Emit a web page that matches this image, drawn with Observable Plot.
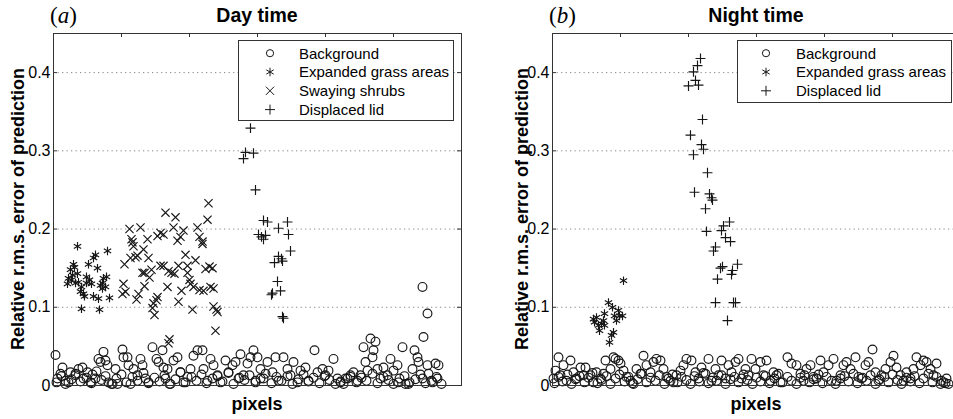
<!DOCTYPE html>
<html>
<head>
<meta charset="utf-8">
<script src="https://cdn.jsdelivr.net/npm/d3@7"></script>
<script src="https://cdn.jsdelivr.net/npm/@observablehq/plot@0.6"></script>
<style>
html,body{margin:0;padding:0;width:953px;height:419px;overflow:hidden;background:#fff;}
#root{position:relative;width:953px;height:419px;overflow:hidden;}
#root svg{position:absolute;top:0;}
</style>
</head>
<body>
<div id="root"></div>
<script>
// ---------- axes / labels ----------
const yTicks = [0, 0.1, 0.2, 0.3, 0.4];
const yTickLabels = ["0", "0.1", "0.2", "0.3", "0.4"];
const gridY = [0.1, 0.2, 0.3, 0.4];
const xTicks = [68, 136, 204, 272, 340];
const xLabel = "pixels";
const yLabel = "Relative r.m.s. error of prediction";
const titleA = "Day time", tagA = "a";
const titleB = "Night time", tagB = "b";
const legendA = ["Background", "Expanded grass areas", "Swaying shrubs", "Displaced lid"];
const legendB = ["Background", "Expanded grass areas", "Displaced lid"];

// ---------- panel (a) Day time : [pixel index, error] ----------
const dayBackground = [[2,0.039],[4,0.009],[9,0.023],[7,0.015],[12,0.006],[17,0.017],[15,0.004],[22,0.013],[25,0.021],[29,0.023],[30,0.009],[34,0.017],[37,0.004],[39,0.014],[42,0.009],[45,0.034],[47,0.030],[50,0.043],[52,0.032],[54,0.026],[55,0.004],[59,0.002],[62,0.021],[64,0.002],[69,0.046],[70,0.036],[74,0.036],[75,0.026],[77,0.002],[80,0.021],[84,0.013],[87,0.034],[89,0.026],[92,0.009],[95,0.004],[99,0.049],[103,0.034],[105,0.030],[109,0.045],[110,0.023],[112,0.009],[114,0.021],[117,0.002],[120,0.032],[124,0.036],[127,0.017],[130,0.004],[134,0.011],[137,0.021],[140,0.038],[144,0.045],[149,0.045],[150,0.021],[154,0.006],[157,0.034],[160,0.026],[164,0.013],[167,0.004],[172,0.032],[175,0.017],[179,0.026],[182,0.030],[185,0.009],[187,0.040],[190,0.013],[194,0.028],[197,0.036],[200,0.045],[202,0.006],[204,0.036],[207,0.021],[210,0.009],[214,0.030],[219,0.017],[222,0.036],[225,0.006],[230,0.036],[234,0.021],[237,0.013],[240,0.030],[244,0.004],[247,0.019],[252,0.023],[255,0.006],[261,0.045],[264,0.017],[269,0.021],[272,0.013],[275,0.019],[280,0.034],[284,0.009],[287,0.004],[290,0.002],[294,0.009],[297,0.011],[300,0.017],[304,0.006],[307,0.013],[310,0.049],[312,0.030],[314,0.019],[317,0.060],[319,0.036],[320,0.045],[322,0.056],[324,0.021],[327,0.009],[330,0.023],[334,0.013],[337,0.034],[340,0.019],[344,0.026],[345,0.004],[349,0.049],[352,0.002],[355,0.002],[359,0.021],[361,0.045],[364,0.036],[365,0.030],[369,0.009],[370,0.062],[369,0.126],[374,0.092],[374,0.026],[375,0.015],[379,0.004],[382,0.028],[385,0.026],[384,0.009]];
const dayBackgroundLow = [[3,0.004],[8,0.012],[12,0.002],[18,0.008],[22,0.015],[27,0.005],[33,0.010],[38,0.003],[43,0.018],[48,0.007],[52,0.012],[58,0.002],[63,0.009],[68,0.014],[73,0.004],[79,0.011],[84,0.006],[90,0.016],[95,0.003],[101,0.010],[106,0.005],[111,0.013],[116,0.002],[122,0.008],[127,0.017],[132,0.004],[138,0.011],[143,0.006],[148,0.014],[153,0.003],[159,0.009],[164,0.012],[169,0.005],[175,0.016],[180,0.002],[186,0.010],[191,0.007],[196,0.013],[202,0.004],[207,0.009],[212,0.015],[218,0.003],[223,0.011],[228,0.006],[234,0.012],[239,0.002],[245,0.008],[250,0.014],[255,0.005],[260,0.010],[266,0.003],[271,0.012],[276,0.007],[282,0.002],[287,0.005],[292,0.009],[297,0.013],[303,0.004],[308,0.010],[313,0.006],[319,0.015],[324,0.003],[330,0.011],[335,0.007],[340,0.002],[346,0.009],[351,0.012],[356,0.004],[362,0.008],[367,0.014],[372,0.003],[378,0.006],[383,0.011],[388,0.002]];
const dayGrass = [[24,0.178],[20,0.155],[17,0.148],[21,0.151],[15,0.137],[14,0.130],[18,0.135],[22,0.131],[24,0.143],[28,0.126],[30,0.117],[31,0.114],[28,0.098],[33,0.139],[36,0.135],[38,0.130],[35,0.155],[40,0.163],[42,0.167],[44,0.150],[40,0.114],[45,0.111],[46,0.097],[49,0.131],[50,0.137],[52,0.126],[53,0.139],[54,0.172],[56,0.112],[49,0.124],[25,0.132],[27,0.120],[19,0.141],[47,0.128],[33,0.131]];
const dayShrubs = [[70,0.130],[69,0.117],[72,0.120],[71,0.155],[76,0.200],[78,0.187],[79,0.183],[80,0.178],[77,0.163],[82,0.164],[84,0.166],[87,0.202],[90,0.174],[89,0.144],[91,0.144],[94,0.187],[95,0.163],[96,0.138],[98,0.148],[91,0.127],[85,0.117],[83,0.110],[100,0.105],[103,0.109],[104,0.113],[101,0.090],[99,0.099],[104,0.191],[107,0.195],[110,0.193],[112,0.221],[114,0.126],[116,0.059],[115,0.054],[107,0.153],[110,0.153],[115,0.146],[118,0.144],[121,0.143],[120,0.202],[122,0.215],[124,0.185],[127,0.190],[130,0.198],[125,0.153],[128,0.121],[125,0.107],[132,0.167],[134,0.153],[134,0.144],[136,0.135],[137,0.130],[139,0.097],[140,0.126],[142,0.160],[144,0.202],[146,0.190],[149,0.184],[149,0.181],[146,0.122],[150,0.121],[152,0.149],[154,0.212],[155,0.233],[157,0.126],[159,0.150],[156,0.152],[160,0.124],[160,0.101],[163,0.097],[164,0.094],[162,0.070]];
const dayLid = [[197,0.329],[190,0.290],[192,0.298],[200,0.297],[202,0.250],[210,0.211],[214,0.209],[205,0.193],[208,0.190],[210,0.187],[212,0.192],[225,0.201],[234,0.209],[235,0.193],[237,0.172],[221,0.157],[225,0.165],[229,0.159],[228,0.162],[224,0.133],[227,0.121],[218,0.116],[219,0.118],[229,0.088],[230,0.086]];

// ---------- panel (b) Night time ----------
const nightBackground = [[1,0.009],[3,0.019],[6,0.036],[8,0.013],[11,0.026],[14,0.006],[18,0.032],[21,0.017],[24,0.009],[28,0.023],[31,0.013],[33,0.023],[38,0.013],[41,0.004],[44,0.017],[48,0.009],[51,0.015],[53,0.032],[58,0.021],[61,0.036],[63,0.034],[66,0.032],[68,0.028],[71,0.019],[74,0.011],[78,0.006],[81,0.002],[84,0.021],[88,0.015],[91,0.038],[94,0.026],[98,0.017],[101,0.030],[104,0.034],[108,0.032],[111,0.021],[114,0.011],[118,0.006],[121,0.004],[124,0.013],[128,0.019],[131,0.026],[134,0.034],[139,0.032],[143,0.017],[146,0.009],[149,0.023],[153,0.015],[156,0.034],[159,0.006],[163,0.021],[166,0.013],[169,0.032],[173,0.009],[176,0.026],[179,0.017],[183,0.030],[186,0.034],[189,0.009],[193,0.021],[196,0.013],[199,0.034],[203,0.021],[208,0.030],[211,0.013],[214,0.032],[218,0.006],[221,0.017],[224,0.013],[228,0.004],[235,0.036],[239,0.028],[244,0.026],[248,0.015],[251,0.006],[254,0.021],[258,0.026],[261,0.011],[264,0.009],[268,0.032],[271,0.017],[276,0.026],[281,0.034],[284,0.006],[288,0.013],[291,0.026],[294,0.030],[298,0.021],[303,0.036],[306,0.011],[309,0.009],[313,0.026],[316,0.030],[320,0.046],[323,0.017],[326,0.006],[329,0.013],[333,0.021],[338,0.030],[341,0.038],[344,0.023],[348,0.013],[351,0.006],[354,0.017],[358,0.009],[361,0.021],[364,0.036],[368,0.026],[371,0.032],[374,0.030],[378,0.021],[381,0.013],[384,0.028],[388,0.002],[391,0.004],[394,0.009],[396,0.002]];
const nightBackgroundLow = [[2,0.003],[6,0.011],[10,0.005],[15,0.014],[19,0.002],[23,0.008],[27,0.012],[32,0.004],[36,0.010],[40,0.016],[45,0.003],[49,0.007],[54,0.012],[58,0.002],[63,0.009],[67,0.014],[72,0.005],[76,0.011],[80,0.003],[85,0.008],[89,0.015],[94,0.004],[98,0.010],[103,0.006],[107,0.013],[112,0.002],[116,0.009],[120,0.014],[125,0.004],[129,0.011],[134,0.007],[138,0.002],[142,0.012],[147,0.005],[151,0.016],[156,0.003],[160,0.010],[164,0.006],[169,0.013],[173,0.002],[178,0.008],[182,0.011],[186,0.004],[191,0.014],[195,0.007],[200,0.002],[204,0.010],[208,0.005],[213,0.012],[217,0.003],[222,0.009],[226,0.015],[230,0.004],[235,0.011],[239,0.006],[244,0.002],[248,0.010],[252,0.013],[257,0.004],[261,0.008],[266,0.014],[270,0.003],[274,0.011],[279,0.006],[283,0.002],[288,0.009],[292,0.012],[296,0.005],[301,0.015],[305,0.003],[310,0.010],[314,0.006],[318,0.013],[323,0.002],[327,0.008],[332,0.011],[336,0.004],[340,0.014],[345,0.007],[349,0.002],[354,0.010],[358,0.005],[362,0.012],[367,0.003],[371,0.009],[376,0.015],[380,0.004],[384,0.011],[389,0.006],[393,0.003]];
const nightGrass = [[71,0.134],[41,0.085],[42,0.081],[46,0.077],[47,0.070],[49,0.079],[51,0.083],[52,0.092],[56,0.106],[60,0.100],[62,0.089],[64,0.083],[66,0.096],[67,0.089],[70,0.089],[61,0.068],[59,0.064],[57,0.055],[44,0.087],[52,0.077]];
const nightLid = [[148,0.418],[145,0.409],[141,0.401],[143,0.390],[136,0.383],[146,0.384],[150,0.340],[138,0.320],[149,0.308],[151,0.302],[141,0.295],[155,0.272],[142,0.247],[157,0.245],[160,0.237],[159,0.240],[153,0.226],[154,0.197],[171,0.204],[177,0.209],[169,0.198],[173,0.189],[178,0.184],[161,0.172],[163,0.177],[170,0.152],[168,0.150],[165,0.136],[179,0.142],[180,0.147],[185,0.155],[163,0.106],[181,0.106],[183,0.106],[175,0.083]];

// ---------- drawing ----------
const FONT = '"Liberation Sans", Arial, Helvetica, sans-serif';
const SERIF = '"Liberation Serif", "Times New Roman", serif';
const INK = "#161616";
const AX = "#333";
const symR = {circle: 4.4, asterisk: 4.0, times: 3.8, plus: 3.3};
const symbolOf = {"Background": "circle", "Expanded grass areas": "asterisk", "Swaying shrubs": "times", "Displaced lid": "plus"};
const d3sym = {circle: d3.symbolCircle, asterisk: d3.symbolAsterisk, times: d3.symbolTimes, plus: d3.symbolPlus};

function txt(sel, size, weight, anchor, family) {
  return sel.style("font-family", family || FONT).style("font-size", size + "px")
    .style("font-weight", weight || "normal").style("text-anchor", anchor || "start").style("fill", "#000");
}

function panel(opts) {
  const {width, left, marginLeft, marginRight, series} = opts;
  const innerW = width - marginLeft - marginRight;
  const innerH = 419 - 33 - 34;
  const marks = [
    Plot.ruleY(gridY, {y: d => d, stroke: "#8a8a8a", strokeDasharray: "1.3,3.2", strokeWidth: 1})
  ];
  for (const s of series) {
    const sym = symbolOf[s.name];
    marks.push(Plot.dot(s.data, {
      x: d => d[0], y: d => d[1], symbol: () => sym, r: symR[sym],
      stroke: INK, fill: "none", strokeWidth: 1.15
    }));
  }
  marks.push(
    Plot.tickY(yTicks, {y: d => d, insetRight: innerW - 4, stroke: AX}),
    Plot.tickY(yTicks, {y: d => d, insetLeft: innerW - 4, stroke: AX}),
    Plot.tickX(xTicks, {x: d => d, insetBottom: innerH - 4, stroke: AX}),
    Plot.tickX(xTicks, {x: d => d, insetTop: innerH - 4, stroke: AX}),
    Plot.frame({stroke: AX, strokeWidth: 1}),
    Plot.text(yTicks, {
      y: d => d, text: (d, i) => yTickLabels[i], frameAnchor: "left", textAnchor: "end",
      dx: -3, fontSize: 16, fill: "#000", fontFamily: FONT
    })
  );
  const svg = Plot.plot({
    width, height: 419,
    marginTop: 33, marginBottom: 34, marginLeft, marginRight,
    style: {fontFamily: FONT, fontSize: "15px", color: "#000", background: "transparent", overflow: "visible"},
    x: {domain: [0, 408], axis: null},
    y: {domain: [0, 0.45], axis: null},
    symbol: {type: "identity"},
    marks
  });
  svg.style.left = left + "px";
  const g = d3.select(svg);
  const cx = marginLeft + innerW / 2;
  // titles
  txt(g.append("text").attr("x", cx).attr("y", 22), 19.5, "bold", "middle").text(opts.title);
  const tag = txt(g.append("text").attr("x", opts.tagX).attr("y", 23), 23, "normal", "start", SERIF);
  tag.append("tspan").text("(");
  tag.append("tspan").style("font-style", "italic").text(opts.tag);
  tag.append("tspan").text(")");
  // axis labels
  txt(g.append("text").attr("x", cx).attr("y", 410), 18, "bold", "middle").text(xLabel);
  txt(g.append("text").attr("transform", `translate(${opts.yLabelX},209) rotate(-90)`), 18, "bold", "middle").text(yLabel);
  // legend
  const L = opts.legend;
  const lg = g.append("g");
  lg.append("rect").attr("x", L.x).attr("y", L.y).attr("width", L.w).attr("height", L.h)
    .attr("fill", "#fff").attr("stroke", AX).attr("stroke-width", 1);
  L.items.forEach((name, i) => {
    const yy = L.y + 12.7 + i * 18.8;
    const sym = symbolOf[name];
    const rr = sym === "circle" ? 3.6 : symR[sym];
    lg.append("path").attr("transform", `translate(${L.symX},${yy})`)
      .attr("d", d3.symbol(d3sym[sym], rr * rr * Math.PI)())
      .attr("fill", "none").attr("stroke", INK).attr("stroke-width", 1);
    txt(lg.append("text").attr("x", L.textX).attr("y", yy).attr("dy", "0.36em"), 15, "normal", "start").text(name);
  });
  return svg;
}

const root = document.getElementById("root");
root.appendChild(panel({
  width: 476, left: 0, marginLeft: 53, marginRight: 15,
  title: titleA, tag: tagA, tagX: 50, yLabelX: 24,
  legend: {x: 238.5, y: 40.5, w: 215, h: 80, symX: 270, textX: 299, items: legendA},
  series: [
    {name: "Background", data: dayBackgroundLow.concat(dayBackground)},
    {name: "Expanded grass areas", data: dayGrass},
    {name: "Swaying shrubs", data: dayShrubs},
    {name: "Displaced lid", data: dayLid}
  ]
}));
root.appendChild(panel({
  width: 484, left: 476, marginLeft: 76, marginRight: 0,
  title: titleB, tag: tagB, tagX: 73, yLabelX: 52,
  legend: {x: 261.5, y: 40.5, w: 214, h: 62, symX: 290, textX: 320, items: legendB},
  series: [
    {name: "Background", data: nightBackgroundLow.concat(nightBackground)},
    {name: "Expanded grass areas", data: nightGrass},
    {name: "Displaced lid", data: nightLid}
  ]
}));
</script>
</body>
</html>
